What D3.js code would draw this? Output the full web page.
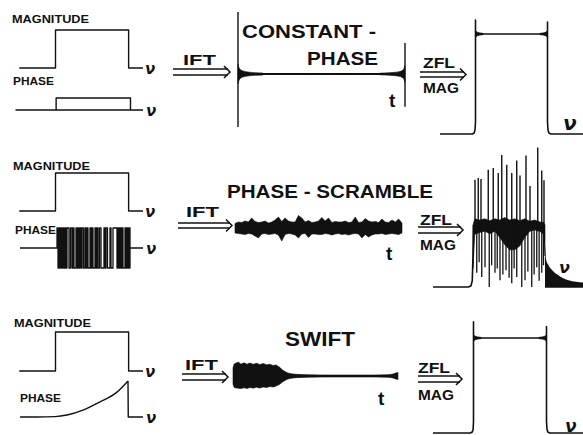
<!DOCTYPE html>
<html>
<head>
<meta charset="utf-8">
<script src="https://cdn.jsdelivr.net/npm/d3@7"></script>
<style>
body { margin: 0; background: #fff; }
text { font-family: "Liberation Sans", Arial, sans-serif; font-weight: bold; fill: #111; }
.nu { font-family: "DejaVu Sans", sans-serif; font-style: italic; font-weight: bold; }
</style>
</head>
<body>
<svg id="fig" width="583" height="435"></svg>
<script>
// ---- data ----
// input spectra (frequency, arbitrary units 0-10)
var bandMag = [[0.1,0],[3.0,0],[3.0,1],[8.85,1],[8.85,0],[10,0]];
var phaseConst = [[-0.2,0],[3.05,0],[3.05,1],[9.0,1],[9.0,0],[10,0]];
var phaseFlips = [3.12,3.2,3.28,3.36,3.44,3.52,3.6,3.68,3.76,3.84,3.92,4.08,4.2,4.32,4.4,4.48,4.64,4.72,4.8,4.88,
  4.96,5.04,5.12,5.24,5.36,5.44,5.52,5.6,5.76,5.84,5.92,6.0,6.16,6.24,6.32,6.4,6.52,6.64,6.88,6.96,
  7.04,7.16,7.36,7.44,7.6,7.92,8.0,8.08,8.16,8.24,8.32,8.4,8.56,8.64,8.72,8.8,8.88,8.96];
var phaseSwift = [[0.16,0],[1.5,0],[2.96,0.01],[3.92,0.055],[5.2,0.19],[6.56,0.42],[7.92,0.69],[8.8,1.0]];
var phaseSwiftDrop = [[8.8,1.0],[8.82,0],[10,0]];

// time-domain signals (t = 0-100)
var cpSpikes = [[0,1.0,-0.855],[100,0.5,-0.53]];
var cpFlare = [[0,0.16],[0.5,0.11],[1,0.085],[2,0.06],[3.5,0.045],[6,0.032],[10,0.022],[15,0.016]];
var scrambleNoise = [
  [0,0.45,0.5],[2,0.6,0.55],[4,0.55,0.6],[6,0.7,0.65],[8,0.6,0.55],[10,1.0,0.6],[12,0.65,0.8],[14,0.55,1.0],
  [16,0.6,0.6],[18,0.7,0.55],[20,0.5,0.65],[22,0.6,0.6],[24,0.8,0.55],[26,1.1,0.7],[28,0.65,1.3],[30,1.0,0.65],
  [32,0.7,0.55],[34,0.6,0.6],[36,0.6,0.7],[38,1.25,1.0],[40,1.0,0.6],[42,0.6,0.55],[44,0.75,0.95],[46,0.55,0.6],
  [48,0.6,0.6],[50,0.7,0.65],[52,1.05,0.65],[54,0.7,0.55],[56,1.0,0.6],[58,0.55,0.7],[60,0.65,0.6],[62,0.6,0.55],
  [64,0.6,0.65],[66,0.7,0.6],[68,0.55,0.7],[70,0.6,0.6],[72,1.1,0.55],[74,0.55,0.6],[76,0.6,1.0],[78,0.95,0.65],
  [80,0.7,0.9],[82,0.6,0.7],[84,0.65,0.6],[86,0.55,0.6],[88,0.9,0.55],[90,0.6,0.65],[92,0.55,0.6],[94,0.8,0.55],
  [96,0.6,0.6],[98,0.9,0.65],[100,0.5,0.5]];
var swiftEnv = [
  [0,0.8,0.8],[0.8,1.2,1.15],[2,1.3,1.2],[3.2,1.38,1.22],[5,1.2,1.25],[6.7,1.32,1.18],[8.5,1.18,1.25],
  [10.3,1.3,1.15],[12.3,1.17,1.22],[14.3,1.28,1.12],[16.3,1.15,1.2],[18.4,1.25,1.1],[20.4,1.12,1.15],
  [22.4,1.18,1.05],[24.3,1.05,1.1],[26,1.1,1.0],[27.5,0.95,0.9],[28.5,0.85,0.8],[30,0.6,0.6],[31.5,0.45,0.45],
  [33,0.33,0.33],[34.5,0.25,0.25],[38.6,0.17,0.17],[46.7,0.12,0.12],[60,0.1,0.1],[83,0.1,0.1],[92,0.12,0.12],
  [95,0.15,0.15],[97,0.2,0.2],[98.5,0.3,0.3],[100,0.35,0.35]];

// output magnitude spectra
var constSpec = [[0.32,0],[2.9,0],[3.05,0.01],[3.12,0.04],[3.16,0.12],[3.16,1.14],[3.16,1.0],[8.92,1.0],
  [8.92,1.12],[8.92,0.12],[8.96,0.04],[9.03,0.01],[9.2,0],[11.76,0]];
var swiftSpec = [[-0.24,0],[2.75,0],[2.9,0.01],[2.97,0.04],[3.0,0.12],[3.0,1.17],[3.0,1.0],[8.84,1.0],
  [8.84,1.12],[8.84,0.12],[8.88,0.04],[8.95,0.01],[9.1,0],[11.76,0]];
var edgeFlare = [[0,0.035],[0.12,0.02],[0.3,0.012],[0.6,0.007]];
var scrBase = [[-0.24,0],[2.6,0],[2.8,0.02],[2.9,0.1],[2.96,0.5]];
var scrBand = [[2.96,1.0,0.3],[3.1,1.1,0.85],[3.5,1.08,0.88],[3.9,1.1,0.9],[4.3,1.07,0.86],[4.7,1.1,0.9],
  [5.1,1.08,0.8],[5.5,1.12,0.68],[5.9,1.08,0.6],[6.3,1.1,0.6],[6.7,1.07,0.66],[7.1,1.1,0.8],[7.5,1.06,0.9],
  [7.9,1.08,0.92],[8.3,1.05,0.9],[8.6,1.04,0.85],[8.72,1.0,0.5]];
var scrUp = [[3.12,1.73],[3.38,1.76],[3.6,1.74],[4.18,1.89],[4.58,1.92],[4.98,1.84],[5.26,2.13],[5.66,1.97],
  [6.06,1.84],[6.46,2.04],[6.72,1.8],[7.2,2.12],[7.52,1.63],[8.14,2.25],[8.46,1.88],[8.64,1.72]];
var scrDown = [[3.26,0.23],[3.45,0.4],[3.66,0.16],[3.92,0.32],[4.26,0.0],[4.45,0.35],[4.72,0.23],[4.9,0.3],
  [5.12,0.11],[5.35,0.2],[5.6,0.27],[5.85,0.15],[6.06,0.06],[6.25,0.3],[6.46,0.16],[6.86,0.0],[7.12,0.11],
  [7.35,0.25],[7.66,0.0],[7.85,0.2],[8.06,0.32],[8.25,0.1],[8.46,0.23],[8.6,0.35]];
var scrTail = [[8.72,0.7],[8.8,0.45],[9.0,0.35],[9.3,0.27],[9.7,0.2],[10.1,0.15],[10.6,0.11],[11.2,0.085],[11.8,0.07]];

// ---- drawing ----
var ink = "#111";
var svg = d3.select("#fig");
svg.append("rect").attr("width", 583).attr("height", 435).attr("fill", "#fff");

var nuL = d3.scaleLinear().domain([0, 10]).range([18, 143]);
var nuR = d3.scaleLinear().domain([0, 10]).range([436, 561]);

function label(txt, x, y, size, len, cls) {
  var t = svg.append("text").attr("x", x).attr("y", y).attr("font-size", size).text(txt);
  if (len) t.attr("textLength", len).attr("lengthAdjust", "spacingAndGlyphs");
  if (cls) t.attr("class", cls);
  return t;
}
function trace(data, xs, ys, w, curve) {
  var ln = d3.line().x(function(d) { return xs(d[0]); }).y(function(d) { return ys(d[1]); });
  if (curve) ln.curve(curve);
  svg.append("path").attr("d", ln(data)).attr("fill", "none")
    .attr("stroke", ink).attr("stroke-width", w).attr("stroke-linejoin", "round");
}
// filled envelope: d = [x, upper, lower]; symmetric=true means lower is an offset below zero
function band(data, xs, ys, curve, symmetric) {
  var ar = d3.area().x(function(d) { return xs(d[0]); })
    .y0(function(d) { return ys(symmetric ? -d[2] : d[2]); }).y1(function(d) { return ys(d[1]); });
  if (curve) ar.curve(curve);
  svg.append("path").attr("d", ar(data)).attr("fill", ink).attr("stroke", ink).attr("stroke-width", 0.6);
}
function arrow(x0, x1, yc, gap) {
  svg.append("line").attr("x1", x0).attr("x2", x1 - 2).attr("y1", yc - gap / 2).attr("y2", yc - gap / 2)
    .attr("stroke", ink).attr("stroke-width", 1.6);
  svg.append("line").attr("x1", x0).attr("x2", x1 - 2).attr("y1", yc + gap / 2).attr("y2", yc + gap / 2)
    .attr("stroke", ink).attr("stroke-width", 1.6);
  svg.append("path").attr("d", "M" + (x1 - 6) + "," + (yc - 6) + "L" + x1 + "," + yc + "L" + (x1 - 6) + "," + (yc + 6))
    .attr("fill", "none").attr("stroke", ink).attr("stroke-width", 1.5);
}

// left column: magnitude / phase inputs
var leftRows = [
  {magLab: 23, magBase: 68, magTop: 30, phLab: 85, phLabX: 13},
  {magLab: 170, magBase: 211, magTop: 173, phLab: 234, phLabX: 15},
  {magLab: 327, magBase: 371, magTop: 332, phLab: 402, phLabX: 20}
];
leftRows.forEach(function(r, i) {
  label("MAGNITUDE", 12 + i, r.magLab, 11, 77);
  label("PHASE", r.phLabX, r.phLab, 11, 41);
  var my = d3.scaleLinear().domain([0, 1]).range([r.magBase, r.magTop]);
  trace(bandMag, nuL, my, 1.4);
  label("ν", nuL(10) + 2, r.magBase + 6, 15, null, "nu");
});

// row 1 phase: constant offset over the band
var py1 = d3.scaleLinear().domain([0, 1]).range([110, 98]);
trace(phaseConst, nuL, py1, 1.4);
trace([[3.05, 0], [9.0, 0]], nuL, py1, 1.4);
label("ν", nuL(10) + 3, 116, 15, null, "nu");

// row 2 phase: scrambled (step between +1 and -1)
var py2 = d3.scaleLinear().domain([-1, 1]).range([268, 228]);
var steps = [[0.16, 0], [phaseFlips[0], 0]];
phaseFlips.forEach(function(f, k) {
  var s = k % 2 === 0 ? 1 : -1;
  if (k > 0) steps.push([f, -s]);
  steps.push([f, s]);
});
steps.push([phaseFlips[phaseFlips.length - 1], 0], [10, 0]);
trace(steps, nuL, py2, 1.3);
label("ν", nuL(10) + 3, 254, 15, null, "nu");

// row 3 phase: quadratic sweep
var py3 = d3.scaleLinear().domain([0, 1]).range([417, 381]);
trace(phaseSwift, nuL, py3, 1.4, d3.curveMonotoneX);
trace(phaseSwiftDrop, nuL, py3, 1.4);
label("ν", nuL(10) + 3, 423, 15, null, "nu");

// IFT arrows
[[173, 230, 72, 6, 183, 65], [178, 232, 225.5, 5, 186, 217], [182, 228, 377, 6, 185, 370]].forEach(function(a) {
  arrow(a[0], a[1], a[2], a[3]);
  label("IFT", a[4], a[5], 15, 33);
});

// row 1 time signal: constant phase
var tx1 = d3.scaleLinear().domain([0, 100]).range([238, 405]);
var vy1 = d3.scaleLinear().domain([-1, 1]).range([136, 12]);
trace([[0, 0], [100, 0]], tx1, vy1, 2);
cpSpikes.forEach(function(s) { trace([[s[0], s[1]], [s[0], s[2]]], tx1, vy1, 1.4); });
band(cpFlare.map(function(d) { return [d[0], d[1], d[1]]; }), tx1, vy1, d3.curveMonotoneX, true);
band(cpFlare.map(function(d) { return [100 - d[0], d[1] * 0.85, d[1] * 0.85]; }).reverse(), tx1, vy1, d3.curveMonotoneX, true);
label("CONSTANT -", 242, 38, 18, 134);
label("PHASE", 307, 65, 18, 71);
label("t", 389, 107, 19);

// row 2 time signal: phase scramble
var tx2 = d3.scaleLinear().domain([0, 100]).range([235, 402]);
var vy2 = d3.scaleLinear().domain([-1, 1]).range([238, 218]);
band(scrambleNoise, tx2, vy2, null, true);
label("PHASE - SCRAMBLE", 227, 198, 18, 206);
label("t", 386, 260, 19);

// row 3 time signal: SWIFT
var tx3 = d3.scaleLinear().domain([0, 100]).range([233, 398]);
var vy3 = d3.scaleLinear().domain([-1, 1]).range([386, 366]);
band(swiftEnv, tx3, vy3, d3.curveMonotoneX, true);
label("SWIFT", 285, 346, 19.5, 70);
label("t", 378, 405, 19);

// ZFL / MAG arrows
[[420, 466, 74.5, 5, 423, 68, 93], [418, 463, 230, 6, 420, 225, 250], [418, 462, 379, 6, 418, 373, 400]].forEach(function(a) {
  arrow(a[0], a[1], a[2], a[3]);
  label("ZFL", a[4], a[5], 15, 32);
  label("MAG", a[4], a[6], 15, 36);
});

// row 1 output spectrum
var sy1 = d3.scaleLinear().domain([0, 1]).range([134, 34]);
trace(constSpec, nuR, sy1, 1.6);
band(edgeFlare.map(function(d) { return [3.16 + d[0], 1 + d[1], 1 - d[1]]; }), nuR, sy1);
band(edgeFlare.map(function(d) { return [8.92 - d[0], 1 + d[1], 1 - d[1]]; }).reverse(), nuR, sy1);
label("ν", 563, 130, 20, null, "nu");

// row 2 output spectrum
var sy2 = d3.scaleLinear().domain([0, 1]).range([287, 225]);
trace(scrBase, nuR, sy2, 1.6);
trace([[8.72, 0], [11.8, 0]], nuR, sy2, 1.6);
band(scrBand, nuR, sy2);
svg.append("path")
  .attr("d", d3.area().x(function(d) { return nuR(d[0]); }).y0(sy2(0)).y1(function(d) { return sy2(d[1]); })
    .curve(d3.curveMonotoneX)(scrTail))
  .attr("fill", ink);
scrUp.forEach(function(s) { trace([[s[0], 0.9], [s[0], s[1]]], nuR, sy2, 1.4); });
scrDown.forEach(function(s) { trace([[s[0], 1.05], [s[0], s[1]]], nuR, sy2, 1.3); });
trace([[2.96, 0.5], [3.0, 1.0]], nuR, sy2, 1.6);
label("ν", 559, 273, 16, null, "nu");

// row 3 output spectrum
var sy3 = d3.scaleLinear().domain([0, 1]).range([433, 338]);
trace(swiftSpec, nuR, sy3, 1.6);
band(edgeFlare.map(function(d) { return [3.0 + d[0], 1 + d[1], 1 - d[1]]; }), nuR, sy3);
band(edgeFlare.map(function(d) { return [8.84 - d[0], 1 + d[1], 1 - d[1]]; }).reverse(), nuR, sy3);
label("ν", 565, 432, 17, null, "nu");
</script>
</body>
</html>
